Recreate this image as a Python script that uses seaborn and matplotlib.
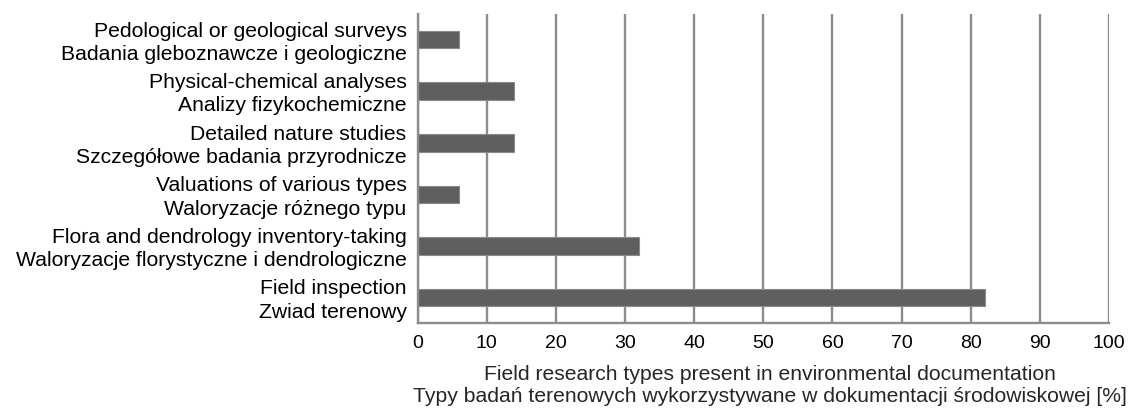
import matplotlib
matplotlib.use("Agg")
import matplotlib.pyplot as plt
import matplotlib.transforms as mtransforms
import seaborn as sns
import pandas as pd

categories_en = [
    "Pedological or geological surveys",
    "Physical-chemical analyses",
    "Detailed nature studies",
    "Valuations of various types",
    "Flora and dendrology inventory-taking",
    "Field inspection",
]
categories_pl = [
    "Badania gleboznawcze i geologiczne",
    "Analizy fizykochemiczne",
    "Szczegółowe badania przyrodnicze",
    "Waloryzacje różnego typu",
    "Waloryzacje florystyczne i dendrologiczne",
    "Zwiad terenowy",
]
values = [6, 14, 14, 6, 32, 82]
x_ticks = [0, 10, 20, 30, 40, 50, 60, 70, 80, 90, 100]
x_label = ("Field research types present in environmental documentation\n"
           "Typy badań terenowych wykorzystywane w dokumentacji środowiskowej [%]")

sns.set_theme(style="white")
plt.rcParams["font.family"] = ["Liberation Sans", "DejaVu Sans"]

labels = [f"{en}\n{pl}" for en, pl in zip(categories_en, categories_pl)]
df = pd.DataFrame({"category": labels, "value": values})

fig = plt.figure(figsize=(11.38, 4.14), dpi=100)
ax = fig.add_axes([0.367, 0.217, 0.9745 - 0.367, 0.964 - 0.217])

grid_color = "#8c8c8c"
ax.set_axisbelow(True)
ax.xaxis.grid(True, color=grid_color, linewidth=1.7)
ax.yaxis.grid(False)

sns.barplot(data=df, x="value", y="category", orient="h", ax=ax,
            color="#5f5f5f", width=0.34, edgecolor="#8a8a8a", linewidth=0.8,
            saturation=1)

ax.set_xlim(0, 100)
ax.set_xticks(x_ticks)
ax.set_xlabel(x_label, fontsize=15.2, labelpad=9, linespacing=1.2)
ax.xaxis.label.set_x(0.51)
ax.set_ylabel("")

ax.tick_params(axis="x", length=0, labelsize=14, colors="#000000", pad=8)
ax.tick_params(axis="y", length=0, labelsize=15.2, colors="#000000", pad=8)
lift = mtransforms.ScaledTranslation(0, 2 / 100, fig.dpi_scale_trans)
for t in ax.get_yticklabels():
    t.set_linespacing(1.28)
    t.set_horizontalalignment("right")
    t.set_multialignment("right")
    t.set_transform(t.get_transform() + lift)

for side in ["top", "right"]:
    ax.spines[side].set_visible(False)
for side in ["left", "bottom"]:
    ax.spines[side].set_color(grid_color)
    ax.spines[side].set_linewidth(1.7)

fig.savefig("out.png", dpi=100)
